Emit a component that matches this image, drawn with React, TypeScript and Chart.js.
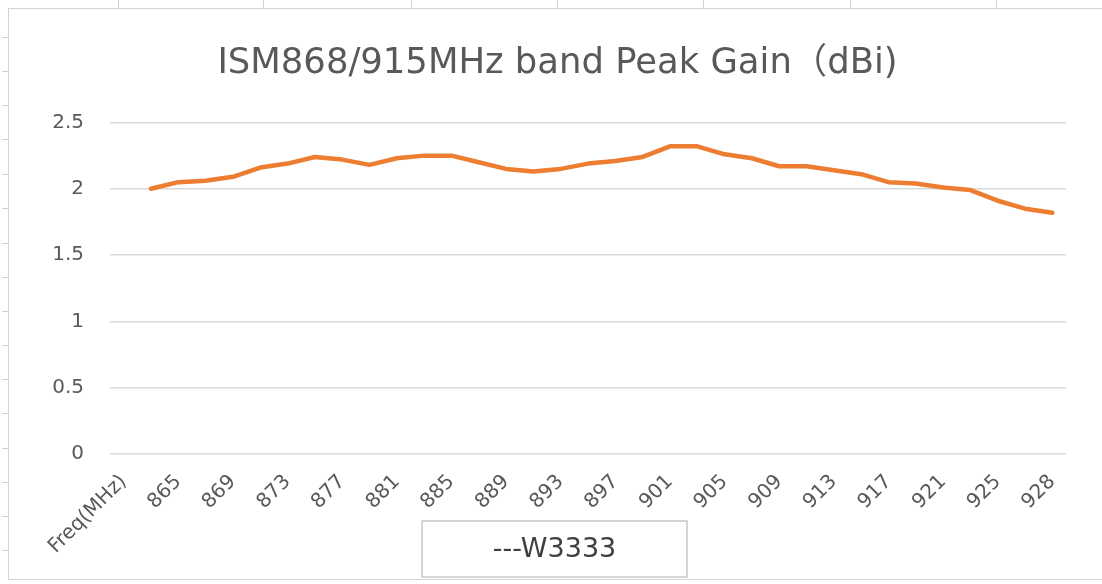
import React, { useEffect, useRef } from "react";
import { Chart, registerables } from "chart.js";

Chart.register(...registerables);

const TITLE = "ISM868/915MHz band Peak Gain（dBi)";
const SERIES_NAME = "---W3333";

const categories: string[] = [
  "Freq(MHz)",
  "863", "865", "867", "869", "871", "873", "875", "877", "879", "881",
  "883", "885", "887", "889", "891", "893", "895", "897", "899", "901",
  "903", "905", "907", "909", "911", "913", "915", "917", "919", "921",
  "923", "925", "927", "928",
];

const peakGain: (number | null)[] = [
  null,
  2.0, 2.05, 2.06, 2.09, 2.16, 2.19, 2.24, 2.22, 2.18, 2.23,
  2.25, 2.25, 2.2, 2.15, 2.13, 2.15, 2.19, 2.21, 2.24, 2.32,
  2.32, 2.26, 2.23, 2.17, 2.17, 2.14, 2.11, 2.05, 2.04, 2.01,
  1.99, 1.91, 1.85, 1.82,
];

const yTicks = { min: 0, max: 2.5, step: 0.5 };

const FONT = "'DejaVu Sans', 'Noto Sans CJK SC', sans-serif";

const legendBoxPlugin = {
  id: "legendBox",
  afterDraw(chart: any) {
    const ctx = chart.ctx;
    const w = 265;
    const h = 56;
    const cx = chart.width / 2 - 1;
    const top = chart.height - 59;
    ctx.save();
    ctx.strokeStyle = "#c8c8c8";
    ctx.lineWidth = 1.5;
    ctx.strokeRect(cx - w / 2, top, w, h);
    ctx.fillStyle = "#404040";
    ctx.font = `27px ${FONT}`;
    ctx.textAlign = "center";
    ctx.textBaseline = "middle";
    ctx.fillText(chart.data.datasets[0].label, cx, top + h / 2 + 1);
    ctx.restore();
  },
};

function GainChart() {
  const ref = useRef<HTMLCanvasElement | null>(null);
  useEffect(() => {
    if (!ref.current) return;
    const chart = new Chart(ref.current, {
      type: "line",
      data: {
        labels: categories,
        datasets: [
          {
            label: SERIES_NAME,
            data: peakGain,
            borderColor: "#ED7D31",
            backgroundColor: "#ED7D31",
            borderWidth: 4.5,
            pointRadius: 0,
            pointHoverRadius: 0,
            tension: 0,
            borderJoinStyle: "round",
            borderCapStyle: "round",
            spanGaps: false,
          },
        ],
      },
      options: {
        animation: false,
        responsive: true,
        maintainAspectRatio: false,
        layout: { padding: { left: 40, right: 36, top: 0, bottom: 16 } },
        plugins: {
          legend: { display: false },
          tooltip: { enabled: false },
          title: {
            display: true,
            text: TITLE,
            color: "#595959",
            font: { family: FONT, size: 35.4, weight: "normal" },
            padding: { top: 34, bottom: 37 },
          },
        },
        scales: {
          x: {
            offset: true,
            grid: { display: false },
            border: { display: false },
            ticks: {
              autoSkip: false,
              minRotation: 45,
              maxRotation: 45,
              color: "#595959",
              padding: 8,
              font: { family: FONT, size: 20 },
              callback: function (this: any, value: any, index: number) {
                return index % 2 === 0 ? this.getLabelForValue(value) : "";
              },
            },
            afterFit: (s: any) => {
              s.height = 110;
            },
          },
          y: {
            min: yTicks.min,
            max: yTicks.max,
            grid: { color: "#d9d9d9", lineWidth: 1.5, drawTicks: false },
            border: { display: false },
            ticks: {
              stepSize: yTicks.step,
              color: "#595959",
              padding: 26,
              font: { family: FONT, size: 20 },
              callback: (v: any) => String(Number(v)),
            },
            afterFit: (s: any) => {
              s.width = 61;
            },
          },
        },
      },
      plugins: [legendBoxPlugin],
    });
    return () => chart.destroy();
  }, []);
  return <canvas ref={ref} />;
}

const colLines = [118, 263, 411, 557, 703, 850, 996];
const rowTicks = [37, 71, 105, 139, 174, 208, 243, 277, 311, 345, 379, 413, 448, 482, 516, 550];

export default function App() {
  return (
    <div
      style={{
        position: "fixed",
        left: 0,
        top: 0,
        width: 1102,
        height: 584,
        background: "#ffffff",
        overflow: "hidden",
      }}
    >
      {colLines.map((x) => (
        <div
          key={"c" + x}
          style={{ position: "absolute", left: x, top: 0, width: 1, height: 8, background: "#d0d0d0" }}
        />
      ))}
      {rowTicks.map((y) => (
        <div
          key={"r" + y}
          style={{ position: "absolute", left: 2, top: y, width: 6, height: 1, background: "#d0d0d0" }}
        />
      ))}
      <div
        style={{
          position: "absolute",
          left: 8,
          top: 8,
          width: 1094,
          height: 572,
          borderLeft: "1.5px solid #d4d4d4",
          borderTop: "1.5px solid #d4d4d4",
          borderBottom: "1.5px solid #d4d4d4",
          boxSizing: "border-box",
        }}
      />
      <div style={{ position: "absolute", left: 9, top: 9, width: 1093, height: 571 }}>
        <GainChart />
      </div>
    </div>
  );
}
